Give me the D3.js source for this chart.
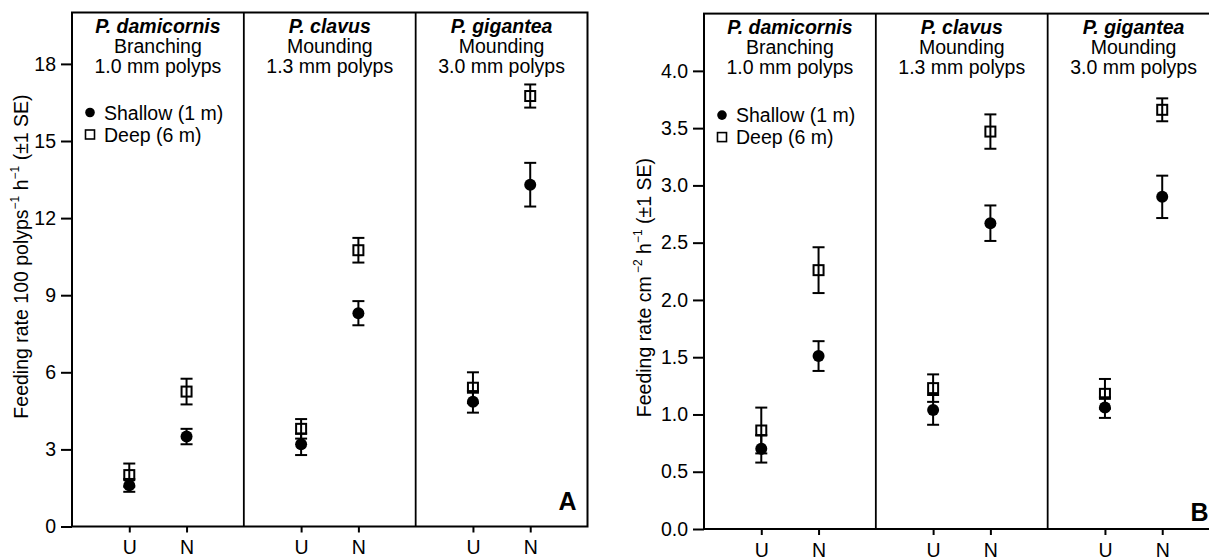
<!DOCTYPE html>
<meta charset="utf-8">
<style>
  body { margin: 0; background: #fff; }
  text { font-family: "Liberation Sans", Arial, Helvetica, sans-serif; fill: #000; }
</style>
<body>
<script src="https://cdn.jsdelivr.net/npm/d3@7"></script>
<script>

// ---- data ----
var species = ["P. damicornis", "P. clavus", "P. gigantea"];
var growthForm = ["Branching", "Mounding", "Mounding"];
var polypSize = ["1.0 mm polyps", "1.3 mm polyps", "3.0 mm polyps"];
var treatments = ["U", "N"];

// panel A : per 100 polyps, [U, N] for each species
var shallowA = [[1.6, 3.5], [3.2, 8.3], [4.85, 13.3]];
var shallowA_se = [[0.25, 0.3], [0.42, 0.47], [0.42, 0.85]];
var deepA = [[2.0, 5.25], [3.8, 10.75], [5.4, 16.75]];
var deepA_se = [[0.45, 0.5], [0.38, 0.48], [0.6, 0.45]];
var ticksA = [0, 3, 6, 9, 12, 15, 18];

// panel B : per cm2
var shallowB = [[0.70, 1.51], [1.04, 2.67], [1.06, 2.90]];
var shallowB_se = [[0.12, 0.13], [0.13, 0.155], [0.09, 0.185]];
var deepB = [[0.86, 2.26], [1.23, 3.47], [1.18, 3.66]];
var deepB_se = [[0.2, 0.2], [0.12, 0.15], [0.13, 0.1]];
var ticksB = [0, 0.5, 1, 1.5, 2, 2.5, 3, 3.5, 4];

var legendLabels = ["Shallow (1 m)", "Deep (6 m)"];

var width = 1209, height = 560;

var svg = d3.select("body").append("svg")
    .attr("width", width)
    .attr("height", height);

function drawPanel(opt) {
  var g = svg.append("g").attr("transform", "translate(" + opt.left + "," + opt.top + ")");
  var w = opt.w, h = opt.h;

  var y = d3.scaleLinear().domain(opt.domain).range([h, 0]);
  var xp = d3.scaleBand().domain(species).range([0, w]);
  var xt = d3.scalePoint().domain(treatments).range([0, xp.bandwidth()]).padding(1);

  // y axis
  var ya = g.append("g")
      .call(d3.axisLeft(y).tickValues(opt.ticks).tickSize(11).tickPadding(5).tickFormat(opt.fmt));
  ya.select(".domain").remove();
  ya.selectAll("line").attr("stroke-width", 2);
  ya.selectAll("text").style("font-size", "19.5px").attr("font-family", null);

  // x axes, one per species
  species.forEach(function(s) {
    var xa = g.append("g")
        .attr("transform", "translate(" + xp(s) + "," + h + ")")
        .call(d3.axisBottom(xt).tickSize(6).tickPadding(8));
    xa.select(".domain").remove();
    xa.selectAll("line").attr("stroke-width", 2);
    xa.selectAll("text").style("font-size", "19.5px").attr("font-family", null);
  });

  // frame + dividers
  g.append("rect")
    .attr("width", w).attr("height", h)
    .attr("fill", "none").attr("stroke", "#000").attr("stroke-width", 2);
  g.selectAll("line.div")
    .data(species.slice(1))
    .enter().append("line")
    .attr("class", "div")
    .attr("x1", function(d){ return xp(d); })
    .attr("x2", function(d){ return xp(d); })
    .attr("y1", 0).attr("y2", h)
    .attr("stroke", "#000").attr("stroke-width", 1.8);

  // header text
  var hdr = g.selectAll("text.hdr")
    .data(species)
    .enter().append("text")
    .attr("class", "hdr")
    .attr("text-anchor", "middle")
    .attr("x", function(d){ return xp(d) + xp.bandwidth() / 2; })
    .attr("y", 20)
    .style("font-size", "19.5px");
  hdr.append("tspan").text(function(d){ return d; })
    .style("font-weight", "bold").style("font-style", "italic");
  hdr.append("tspan").text(function(d, i){ return growthForm[i]; })
    .attr("x", function(d){ return xp(d) + xp.bandwidth() / 2; }).attr("dy", 20);
  hdr.append("tspan").text(function(d, i){ return polypSize[i]; })
    .attr("x", function(d){ return xp(d) + xp.bandwidth() / 2; }).attr("dy", 20);

  // flatten points
  function pts(mean, se, kind) {
    var out = [];
    species.forEach(function(s, i) {
      treatments.forEach(function(t, j) {
        out.push({ s: s, t: t, v: mean[i][j], se: se[i][j], kind: kind });
      });
    });
    return out;
  }
  var deep = pts(opt.deep, opt.deepSe, "deep");
  var shallow = pts(opt.shallow, opt.shallowSe, "shallow");
  var all = deep.concat(shallow);
  function px(d) { return xp(d.s) + xt(d.t); }

  var sq = 10;
  g.selectAll("rect.deep")
    .data(deep)
    .enter().append("rect")
    .attr("class", "deep")
    .attr("x", function(d){ return px(d) - sq / 2; })
    .attr("y", function(d){ return y(d.v) - sq / 2; })
    .attr("width", sq).attr("height", sq)
    .attr("fill", "#fff").attr("stroke", "#000").attr("stroke-width", 2);

  var cap = 6;
  var eb = g.selectAll("g.err").data(all).enter().append("g").attr("class", "err")
    .attr("stroke", "#000").attr("stroke-width", 2);
  eb.append("line")
    .attr("x1", px).attr("x2", px)
    .attr("y1", function(d){ return y(d.v - d.se); })
    .attr("y2", function(d){ return y(d.v + d.se); });
  eb.append("line")
    .attr("x1", function(d){ return px(d) - cap; }).attr("x2", function(d){ return px(d) + cap; })
    .attr("y1", function(d){ return y(d.v + d.se); })
    .attr("y2", function(d){ return y(d.v + d.se); });
  eb.append("line")
    .attr("x1", function(d){ return px(d) - cap; }).attr("x2", function(d){ return px(d) + cap; })
    .attr("y1", function(d){ return y(d.v - d.se); })
    .attr("y2", function(d){ return y(d.v - d.se); });

  g.selectAll("circle.shallow")
    .data(shallow)
    .enter().append("circle")
    .attr("class", "shallow")
    .attr("cx", px)
    .attr("cy", function(d){ return y(d.v); })
    .attr("r", 6)
    .attr("fill", "#000");

  // legend
  var lg = g.append("g").attr("transform", "translate(" + opt.legX + "," + opt.legY + ")");
  lg.append("circle").attr("cx", 0).attr("cy", 0).attr("r", 4.8).attr("fill", "#000");
  lg.append("rect").attr("x", -4.5).attr("y", 17.5).attr("width", 9).attr("height", 9)
    .attr("fill", "#fff").attr("stroke", "#000").attr("stroke-width", 1.6);
  lg.selectAll("text").data(legendLabels).enter().append("text")
    .attr("x", 14).attr("y", function(d, i){ return 7 + i * 22; })
    .style("font-size", "19.5px")
    .text(function(d){ return d; });

  // panel letter
  g.append("text")
    .attr("x", w - 11).attr("y", h - opt.letterUp)
    .attr("text-anchor", "end")
    .style("font-size", "25px").style("font-weight", "bold")
    .text(opt.letter);

  // y label
  var yl = g.append("text")
    .attr("transform", "translate(" + opt.labX + "," + opt.labY + ") rotate(-90)")
    .attr("text-anchor", "middle")
    .style("font-size", "19.5px");
  opt.label.forEach(function(p) {
    var t = yl.append("tspan").text(p[0]);
    if (p[1]) t.style("font-size", "12px").attr("dy", -9);
    else if (p[2]) t.attr("dy", 9);
  });
}

drawPanel({
  left: 72, top: 12.5, w: 515.5, h: 514,
  domain: [0, 20], ticks: ticksA, fmt: d3.format("d"),
  shallow: shallowA, shallowSe: shallowA_se, deep: deepA, deepSe: deepA_se,
  legX: 18, legY: 100, letter: "A", letterUp: 17,
  labX: -44, labY: 244,
  label: [["Feeding rate 100 polyps"], ["\u22121", true], [" h", false, true], ["\u22121", true], [" (\u00b11 SE)", false, true]]
});

drawPanel({
  left: 704, top: 13.6, w: 515.5, h: 515.4,
  domain: [0, 4.5], ticks: ticksB, fmt: d3.format(".1f"),
  shallow: shallowB, shallowSe: shallowB_se, deep: deepB, deepSe: deepB_se,
  legX: 18, legY: 101.5, letter: "B", letterUp: 8,
  labX: -53, labY: 274,
  label: [["Feeding rate cm"], [" \u22122", true], [" h", false, true], ["\u22121", true], [" (\u00b11 SE)", false, true]]
});

</script>
</body>
